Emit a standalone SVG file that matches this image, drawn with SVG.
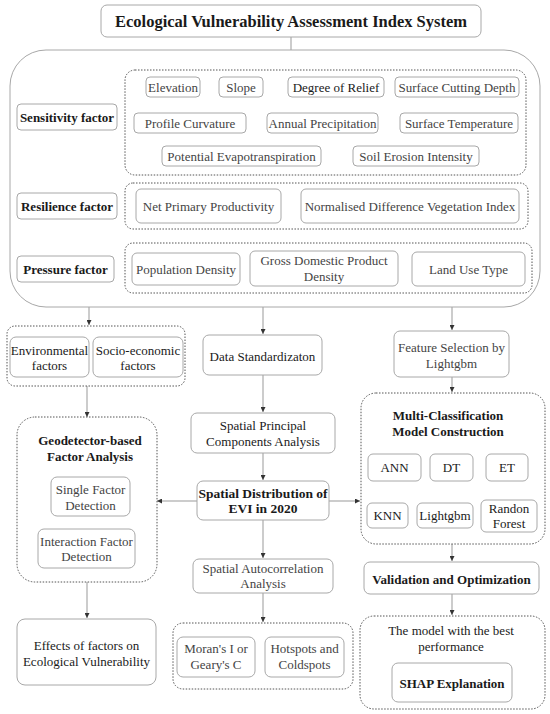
<svg xmlns="http://www.w3.org/2000/svg" width="550" height="714" viewBox="0 0 550 714">
<style>
.box{fill:#fff;stroke:#a8a8a8;stroke-width:1}
.dot{fill:none;stroke:#555;stroke-width:1;stroke-dasharray:1.5 1.5}
.t{font-family:"Liberation Serif","Times New Roman",serif;font-size:13px;fill:#444;text-anchor:middle}
.b{font-weight:bold;fill:#1a1a1a}
.k{fill:#1a1a1a}
.c{stroke:#999;stroke-width:1;fill:none}
</style>
<defs>
<marker id="ah" viewBox="0 0 6 6" refX="6" refY="3" markerWidth="5" markerHeight="5" orient="auto" markerUnits="userSpaceOnUse"><path d="M0,0 L6,3 L0,6 z" fill="#333"/></marker>
</defs>
<rect width="550" height="714" fill="#fff"/>

<g id="connectors">
<line class="c" x1="291" y1="37" x2="291" y2="50"/>
<line class="c" x1="89" y1="307" x2="89" y2="325" marker-end="url(#ah)"/>
<line class="c" x1="263" y1="307" x2="263" y2="334" marker-end="url(#ah)"/>
<line class="c" x1="452" y1="307" x2="452" y2="330" marker-end="url(#ah)"/>
<line class="c" x1="87" y1="386" x2="87" y2="417" marker-end="url(#ah)"/>
<line class="c" x1="87" y1="582" x2="87" y2="618" marker-end="url(#ah)"/>
<line class="c" x1="263" y1="375" x2="263" y2="412" marker-end="url(#ah)"/>
<line class="c" x1="263" y1="453" x2="263" y2="480" marker-end="url(#ah)"/>
<line class="c" x1="197" y1="501" x2="157" y2="501" marker-end="url(#ah)"/>
<line class="c" x1="329" y1="501" x2="360" y2="501" marker-end="url(#ah)"/>
<line class="c" x1="263" y1="520" x2="263" y2="558" marker-end="url(#ah)"/>
<line class="c" x1="263" y1="593" x2="263" y2="622" marker-end="url(#ah)"/>
<line class="c" x1="452" y1="377" x2="452" y2="392" marker-end="url(#ah)"/>
<line class="c" x1="452" y1="544" x2="452" y2="561" marker-end="url(#ah)"/>
<line class="c" x1="452" y1="594" x2="452" y2="615" marker-end="url(#ah)"/>
</g>

<g id="title"><rect class="box" x="101" y="5" width="380" height="32" rx="6"/><text class="t b" x="291" y="27" style="font-size:16.5px">Ecological Vulnerability Assessment Index System</text></g>

<g id="index-system"><rect class="box" x="10" y="50" width="530" height="257" rx="36"/></g>

<g id="sensitivity">
<rect class="box" x="17" y="104" width="100" height="26" rx="4"/><text class="t b" x="67" y="122">Sensitivity factor</text>
<rect class="dot" x="125" y="70" width="401" height="105" rx="10"/>
<rect class="box" x="146" y="77" width="54" height="20" rx="4"/><text class="t" x="173" y="91.5">Elevation</text>
<rect class="box" x="219" y="77" width="44" height="20" rx="4"/><text class="t" x="241" y="91.5">Slope</text>
<rect class="box" x="288" y="77" width="96" height="20" rx="4"/><text class="t k" x="336" y="91.5">Degree of Relief</text>
<rect class="box" x="395" y="77" width="124" height="20" rx="4"/><text class="t" x="457" y="91.5">Surface Cutting Depth</text>
<rect class="box" x="134" y="113" width="112" height="20" rx="4"/><text class="t" x="190" y="127.5">Profile Curvature</text>
<rect class="box" x="267" y="113" width="111" height="20" rx="4"/><text class="t" x="322.5" y="127.5">Annual Precipitation</text>
<rect class="box" x="400" y="113" width="118" height="20" rx="4"/><text class="t" x="459" y="127.5">Surface Temperature</text>
<rect class="box" x="162" y="146" width="159" height="20" rx="4"/><text class="t" x="241.5" y="160.5">Potential Evapotranspiration</text>
<rect class="box" x="353" y="146" width="126" height="20" rx="4"/><text class="t" x="416" y="160.5">Soil Erosion Intensity</text>
</g>

<g id="resilience">
<rect class="box" x="17" y="193" width="100" height="26" rx="4"/><text class="t b" x="67" y="210.5">Resilience factor</text>
<rect class="dot" x="125" y="183" width="403" height="46" rx="8"/>
<rect class="box" x="136" y="189" width="145" height="34" rx="5"/><text class="t" x="208.5" y="210.5">Net Primary Productivity</text>
<rect class="box" x="301" y="189" width="218" height="34" rx="5"/><text class="t" x="410" y="210.5">Normalised Difference Vegetation Index</text>
</g>

<g id="pressure">
<rect class="box" x="17" y="256" width="97" height="26" rx="4"/><text class="t b" x="65.5" y="273.5">Pressure factor</text>
<rect class="dot" x="125" y="243" width="407" height="50" rx="8"/>
<rect class="box" x="132" y="253" width="108" height="32" rx="5"/><text class="t" x="186" y="273.5">Population Density</text>
<rect class="box" x="250" y="251" width="148" height="35" rx="5"/><text class="t" x="324" y="264.5">Gross Domestic Product<tspan x="324" dy="16">Density</tspan></text>
<rect class="box" x="412" y="252" width="113" height="34" rx="5"/><text class="t" x="468.5" y="273.5">Land Use Type</text>
</g>

<g id="factors">
<rect class="dot" x="7" y="326" width="178" height="60" rx="8"/>
<rect class="box" x="10" y="337" width="79" height="40" rx="6"/><text class="t k" x="49.5" y="354.5">Environmental<tspan x="49.5" dy="15">factors</tspan></text>
<rect class="box" x="93" y="337" width="90" height="40" rx="6"/><text class="t k" x="138" y="354.5">Socio-economic<tspan x="138" dy="15">factors</tspan></text>
</g>

<g id="geodetector">
<rect class="dot" x="17" y="417" width="140" height="165" rx="18"/>
<text class="t b" x="90" y="444.5">Geodetector-based<tspan x="90" dy="16">Factor Analysis</tspan></text>
<rect class="box" x="51" y="477" width="79" height="39" rx="6"/><text class="t" x="90.5" y="493.5">Single Factor<tspan x="90.5" dy="16">Detection</tspan></text>
<rect class="box" x="38" y="529" width="97" height="39" rx="6"/><text class="t" x="86.5" y="546">Interaction Factor<tspan x="86.5" dy="15">Detection</tspan></text>
</g>

<g id="effects"><rect class="box" x="17" y="619" width="139" height="66" rx="8"/><text class="t k" x="86.5" y="649.5">Effects of factors on<tspan x="86.5" dy="16">Ecological Vulnerability</tspan></text></g>

<g id="data-std"><rect class="box" x="203" y="335" width="119" height="40" rx="6"/><text class="t k" x="262.5" y="360.5">Data Standardizaton</text></g>

<g id="spca"><rect class="box" x="191" y="413" width="144" height="40" rx="6"/><text class="t k" x="263" y="429.5">Spatial Principal<tspan x="263" dy="16">Components Analysis</tspan></text></g>

<g id="evi"><rect class="box" x="197" y="481" width="132" height="39" rx="6"/><text class="t b" x="263" y="497.5" style="font-size:13.5px">Spatial Distribution of<tspan x="263" dy="15">EVI in 2020</tspan></text></g>

<g id="autocorr"><rect class="box" x="193" y="559" width="140" height="34" rx="6"/><text class="t" x="263" y="572.5">Spatial Autocorrelation<tspan x="263" dy="15">Analysis</tspan></text></g>

<g id="autocorr-results">
<rect class="dot" x="173" y="623" width="180" height="66" rx="10"/>
<rect class="box" x="177" y="637" width="78" height="40" rx="6"/><text class="t" x="216" y="652.5">Moran's I or<tspan x="216" dy="16">Geary's C</tspan></text>
<rect class="box" x="265" y="637" width="79" height="40" rx="6"/><text class="t" x="304.5" y="652.5">Hotspots and<tspan x="304.5" dy="16">Coldspots</tspan></text>
</g>

<g id="feature-selection"><rect class="box" x="394" y="331" width="115" height="46" rx="6"/><text class="t" x="451.5" y="351.5">Feature Selection by<tspan x="451.5" dy="16">Lightgbm</tspan></text></g>

<g id="multi-class">
<rect class="dot" x="361" y="393" width="184" height="151" rx="15"/>
<text class="t b" x="448" y="419.5">Multi-Classification<tspan x="448" dy="16">Model Construction</tspan></text>
<rect class="box" x="368" y="454" width="53" height="27" rx="5"/><text class="t k" x="394.5" y="472">ANN</text>
<rect class="box" x="430" y="454" width="43" height="27" rx="5"/><text class="t k" x="451.5" y="472">DT</text>
<rect class="box" x="486" y="454" width="42" height="27" rx="5"/><text class="t k" x="507" y="472">ET</text>
<rect class="box" x="367" y="503" width="41" height="25" rx="5"/><text class="t k" x="387.5" y="520">KNN</text>
<rect class="box" x="417" y="503" width="56" height="25" rx="5"/><text class="t k" x="445" y="520">Lightgbm</text>
<rect class="box" x="481" y="500" width="56" height="32" rx="5"/><text class="t k" x="509" y="512.5">Randon<tspan x="509" dy="15">Forest</tspan></text>
</g>

<g id="validation"><rect class="box" x="364" y="562" width="175" height="32" rx="6"/><text class="t b" x="451.5" y="583.5">Validation and Optimization</text></g>

<g id="best-model">
<rect class="dot" x="360" y="616" width="185" height="93" rx="14"/>
<text class="t k" x="451" y="634.5">The model with the best<tspan x="451" dy="16">performance</tspan></text>
<rect class="box" x="392" y="663" width="120" height="39" rx="6"/><text class="t b" x="452" y="687.5">SHAP Explanation</text>
</g>
</svg>
